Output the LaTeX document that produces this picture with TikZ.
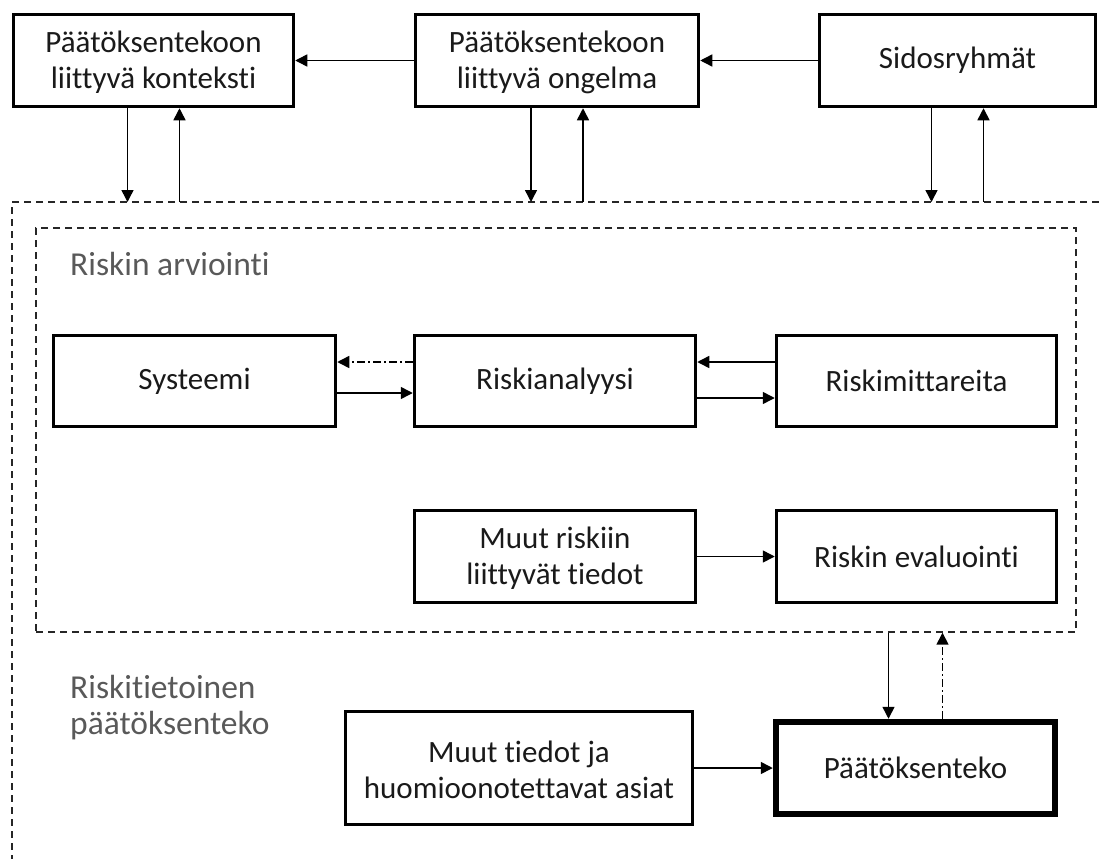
\documentclass[tikz,border=0pt]{standalone}
\usepackage{fontspec}
\setmainfont{Carlito}[Ligatures=NoCommon]
\usetikzlibrary{arrows.meta,calc}
\definecolor{labelgray}{HTML}{595959}
\definecolor{ink}{HTML}{1A1A1A}
\begin{document}
\begin{tikzpicture}[x=1pt,y=-1pt,
  box/.style={draw=black,line width=3.5pt,fill=white,align=center,
    inner sep=0pt,text=ink,font=\fontsize{31}{36}\selectfont},
  twoline/.style={text depth=10pt},
  strongbox/.style={box,line width=6.5pt},
  region/.style={draw=black!85,line width=1.4pt,dash pattern=on 7pt off 5pt},
  arr/.style={line width=1.5pt,-{Triangle[length=12pt,width=12pt]}},
  dotarr/.style={arr,dash pattern=on 8pt off 3pt on 2pt off 3pt},
  lbl/.style={text=labelgray,inner sep=0pt,align=left,
    font=\fontsize{33.5}{36}\selectfont}]
\useasboundingbox (0,0) rectangle (1099,859);

% outer region (open towards the right and bottom edges)
\draw[region] (1099,202) -- (12,202) -- (12,859);
\coordinate (otop) at (0,202);

% inner region: risk assessment
\node[region,minimum width=1040pt,minimum height=404pt,inner sep=0pt]
  (arv) at (556,430) {};
\node[lbl,anchor=base west] (arvl) at (70,275) {Riskin arviointi};
\node[lbl,anchor=west] (rtp) at (70,708) {Riskitietoinen\\päätöksenteko};

% top row
\node[box,minimum width=280pt,minimum height=92pt] (ctx) at (153.5,60.5)
  {\strut Päätöksentekoon\\liittyvä konteksti};
\node[box,minimum width=283pt,minimum height=92pt] (prob) at (557,60.5)
  {\strut Päätöksentekoon\\liittyvä ongelma};
\node[box,minimum width=276pt,minimum height=92pt] (sid) at (957.5,60.5)
  {Sidosryhmät};

% risk assessment row
\node[box,minimum width=282pt,minimum height=91pt] (sys) at (194.5,381) {Systeemi};
\node[box,minimum width=281pt,minimum height=91pt] (ana) at (555,381) {Riskianalyysi};
\node[box,minimum width=280pt,minimum height=91pt] (mit) at (916.5,381) {Riskimittareita};

\node[box,minimum width=281pt,minimum height=92pt] (muu) at (555,556.5)
  {\strut Muut riskiin\\liittyvät tiedot};
\node[box,minimum width=280pt,minimum height=92pt] (eva) at (916.5,556.5)
  {Riskin evaluointi};

% decision row
\node[box,minimum width=347pt,minimum height=113pt] (tied) at (519,768)
  {\strut Muut tiedot ja\\huomioonotettavat asiat};
\node[strongbox,minimum width=279pt,minimum height=92pt] (dec) at (915.5,768)
  {Päätöksenteko};

% connectors between the top boxes
\draw[arr] (prob.west) -- (ctx.east);
\draw[arr] (sid.west) -- (prob.west -| prob.east);

% exchange between the top boxes and the outer region
\foreach \n in {ctx,prob,sid}{
  \draw[arr] ([xshift=-26pt]\n.south) -- ([xshift=-26pt]\n.south |- otop);
  \draw[arr] ([xshift=26pt]\n.south |- otop) -- ([xshift=26pt]\n.south);
}

% risk analysis connectors
\draw[dotarr] ([yshift=19pt]ana.west) -- ([yshift=19pt]sys.east);
\draw[arr] ([yshift=-12pt]sys.east) -- ([yshift=-12pt]ana.west);
\draw[arr] ([yshift=19pt]mit.west) -- ([yshift=19pt]ana.east);
\draw[arr] ([yshift=-17pt]ana.east) -- ([yshift=-17pt]mit.west);
\draw[arr] (muu.east) -- (eva.west);

% decision making connectors
\draw[arr] ([xshift=-27pt]dec.north |- arv.south) -- ([xshift=-27pt]dec.north);
\draw[dotarr] ([xshift=27pt]dec.north) -- ([xshift=27pt]dec.north |- arv.south);
\draw[arr] (tied.east |- dec.west) -- (dec.west);
\end{tikzpicture}
\end{document}
